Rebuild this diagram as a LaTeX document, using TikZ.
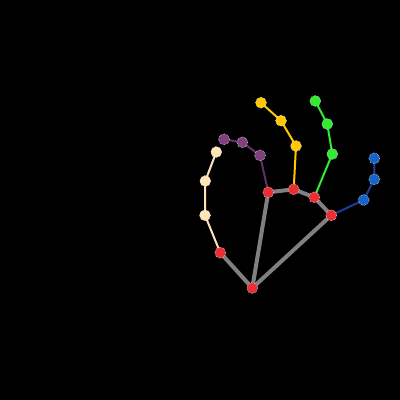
\documentclass[tikz,border=0pt]{standalone}
\usepackage{tikz}
\usetikzlibrary{backgrounds}
\definecolor{palmgray}{RGB}{128,128,128}
\definecolor{jointred}{RGB}{232,48,52}
\definecolor{thumbtan}{RGB}{255,228,184}
\definecolor{indexpurple}{RGB}{128,64,128}
\definecolor{indexline}{RGB}{100,48,100}
\definecolor{middleyellow}{RGB}{255,200,0}
\definecolor{ringgreen}{RGB}{48,235,48}
\definecolor{pinkyblue}{RGB}{22,100,200}
\definecolor{pinkyline}{RGB}{30,60,150}
\pgfdeclarelayer{bones}
\pgfsetlayers{background,bones,main}

\begin{document}
\begin{tikzpicture}[
  x=1pt, y=-1pt,
  joint/.style={circle, draw=white, densely dotted, line width=0.5pt, minimum size=11pt, inner sep=0pt, fill=#1},
  palm/.style={line width=4pt, color=palmgray},
  bone/.style={line width=2pt, color=#1},
]
  \begin{pgfonlayer}{background}
    \fill[black] (0,0) rectangle (400,400);
  \end{pgfonlayer}
  \useasboundingbox (0,0) rectangle (400,400);

  % wrist and knuckles
  \node[joint=jointred] (wrist) at (252.3,288) {};
  \node[joint=jointred] (thumbcmc) at (220.3,252.7) {};
  \node[joint=jointred] (indexmcp) at (268.3,192.3) {};
  \node[joint=jointred] (middlemcp) at (293.7,189.3) {};
  \node[joint=jointred] (ringmcp) at (314.3,197.3) {};
  \node[joint=jointred] (pinkymcp) at (331.3,215.3) {};
  % thumb
  \node[joint=thumbtan] (thumb1) at (205,215.3) {};
  \node[joint=thumbtan] (thumb2) at (205.3,181) {};
  \node[joint=thumbtan] (thumb3) at (216.3,152) {};
  % index
  \node[joint=indexpurple] (index1) at (260,155.3) {};
  \node[joint=indexpurple] (index2) at (242.3,142.3) {};
  \node[joint=indexpurple] (index3) at (224,139.3) {};
  % middle
  \node[joint=middleyellow] (middle1) at (296,146) {};
  \node[joint=middleyellow] (middle2) at (281,120.7) {};
  \node[joint=middleyellow] (middle3) at (261,102.7) {};
  % ring
  \node[joint=ringgreen] (ring1) at (332.3,154) {};
  \node[joint=ringgreen] (ring2) at (327.3,124) {};
  \node[joint=ringgreen] (ring3) at (315.3,101) {};
  % pinky
  \node[joint=pinkyblue] (pinky1) at (363.7,200) {};
  \node[joint=pinkyblue] (pinky2) at (374.3,179.3) {};
  \node[joint=pinkyblue] (pinky3) at (374.3,158.3) {};

  \begin{pgfonlayer}{bones}
    \draw[palm] (thumbcmc.center) -- (wrist.center) -- (indexmcp.center);
    \draw[palm] (wrist.center) -- (pinkymcp.center);
    \draw[palm] (indexmcp.center) -- (middlemcp.center) -- (ringmcp.center) -- (pinkymcp.center);
    \draw[bone=thumbtan] (thumbcmc.center) -- (thumb1.center) -- (thumb2.center) -- (thumb3.center);
    \draw[bone=indexline] (indexmcp.center) -- (index1.center) -- (index2.center) -- (index3.center);
    \draw[bone=middleyellow] (middlemcp.center) -- (middle1.center) -- (middle2.center) -- (middle3.center);
    \draw[bone=ringgreen] (ringmcp.center) -- (ring1.center) -- (ring2.center) -- (ring3.center);
    \draw[bone=pinkyline] (pinkymcp.center) -- (pinky1.center) -- (pinky2.center) -- (pinky3.center);
  \end{pgfonlayer}
\end{tikzpicture}
\end{document}
